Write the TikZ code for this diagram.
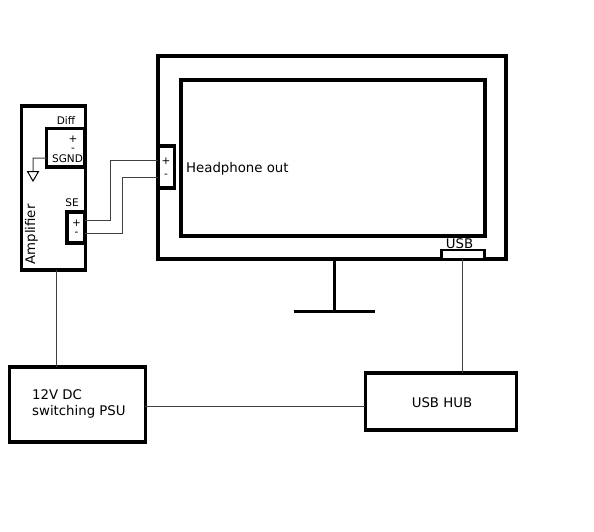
\documentclass[tikz,border=0pt]{standalone}
\usepackage{fontspec}
\setmainfont{DejaVu Sans}
\usetikzlibrary{shapes.geometric}
\definecolor{ink}{HTML}{000000}
\tikzset{x=1pt,y=-1pt,
 heavy/.style={draw=ink,line width=3.6pt,fill=white,rectangle,inner sep=0pt,outer sep=0pt},
 medium/.style={draw=ink,line width=3.6pt,fill=white,rectangle,inner sep=0pt,outer sep=0pt},
 wire/.style={draw=ink!75,line width=1pt},
 lab/.style={inner sep=0pt,font=\fontsize{13.3}{16}\selectfont,text=ink},
 small/.style={inner sep=0pt,font=\fontsize{10.5}{12}\selectfont,text=ink}}
\begin{document}
\begin{tikzpicture}
\useasboundingbox (0,0) rectangle (594,531);
% monitor
\node[heavy,minimum width=348pt,minimum height=203pt] (monitor) at (332,157.5) {};
\node[heavy,minimum width=304pt,minimum height=156pt] (screen) at (332.7,158) {};
\node[medium,minimum width=16pt,minimum height=41.5pt] (hp) at (166.3,167) {};
\node[draw=ink,line width=2.6pt,fill=white,inner sep=0,outer sep=0,minimum width=43pt,minimum height=9pt] (usbport) at (463,254.5) {};
\coordinate (standtop) at (334.6,259);
\coordinate (standbase) at (334.6,311);
\coordinate (baseL) at (293.5,311);
\coordinate (baseR) at (374.5,311);
\draw[ink,line width=3pt] (standtop) -- (standbase);
\draw[ink,line width=3pt] (baseL) -- (baseR);
\node[small,anchor=center] (hpplus) at (166,161.5) {+};
\node[small,anchor=center] (hpminus) at (166,176) {-};
\node[lab,anchor=west] (hplabel) at (186,169) {Headphone out};
\node[lab,anchor=center] (usblabel) at (459.5,243.5) {USB};
% amplifier
\node[heavy,minimum width=64pt,minimum height=164pt] (amp) at (53.5,187.8) {};
\node[medium,minimum width=38pt,minimum height=38.5pt] (diff) at (65.5,147.7) {};
\node[medium,minimum width=17.5pt,minimum height=30.5pt] (se) at (76,227.5) {};
\node[small,anchor=center] (difflabel) at (66,120.5) {Diff};
\node[small,anchor=center] (dplus) at (73,139) {+};
\node[small,anchor=center] (dminus) at (73,149.5) {-};
\node[small,anchor=center] (sgnd) at (67.5,159) {SGND};
\node[small,anchor=center] (selabel) at (72,202.5) {SE};
\node[small,anchor=center] (seplus) at (76.5,223.5) {+};
\node[small,anchor=center] (seminus) at (76.5,233.5) {-};
\node[lab,rotate=90,anchor=west] (amplabel) at (31.5,264.5) {Amplifier};
\coordinate (gndcorner) at (33,158);
\coordinate (gndtop) at (33,171);
\node[isosceles triangle,shape border rotate=-90,isosceles triangle apex angle=60,draw=ink,line width=1pt,fill=white,inner sep=0,minimum height=9pt,minimum width=11pt,anchor=north] (gnd) at (33,171) {};
\draw[wire] (diff.west) ++(0,10.5) coordinate (sgndout) -- (gndcorner) -- (gnd.north);
% psu & hub
\node[heavy,minimum width=136pt,minimum height=75pt] (psu) at (77.3,404.5) {};
\node[lab,anchor=west,align=left,font=\fontsize{13.3}{16.5}\selectfont] (psulabel) at (32,404) {12V DC\\switching PSU};
\node[heavy,minimum width=151pt,minimum height=57pt] (hub) at (440.8,401.5) {};
\node[lab,anchor=center] (hublabel) at (442,403) {USB HUB};
% connectors
\draw[wire] (amp.south -| 56,0) -- (psu.north -| 56,0);
\draw[wire] (psu.east |- 0,406) -- (hub.west |- 0,406);
\draw[wire] (usbport.south -| 462.5,0) -- (hub.north -| 462.5,0);
\coordinate (sp) at (se.east |- 0,220);
\coordinate (sm) at (se.east |- 0,233.5);
\coordinate (hpp) at (hp.west |- 0,160);
\coordinate (hpm) at (hp.west |- 0,177);
\draw[wire] (sp) -- (110,220) -- (110,160) -- (hpp);
\draw[wire] (sm) -- (122.5,233.5) -- (122.5,177) -- (hpm);
\end{tikzpicture}
\end{document}
